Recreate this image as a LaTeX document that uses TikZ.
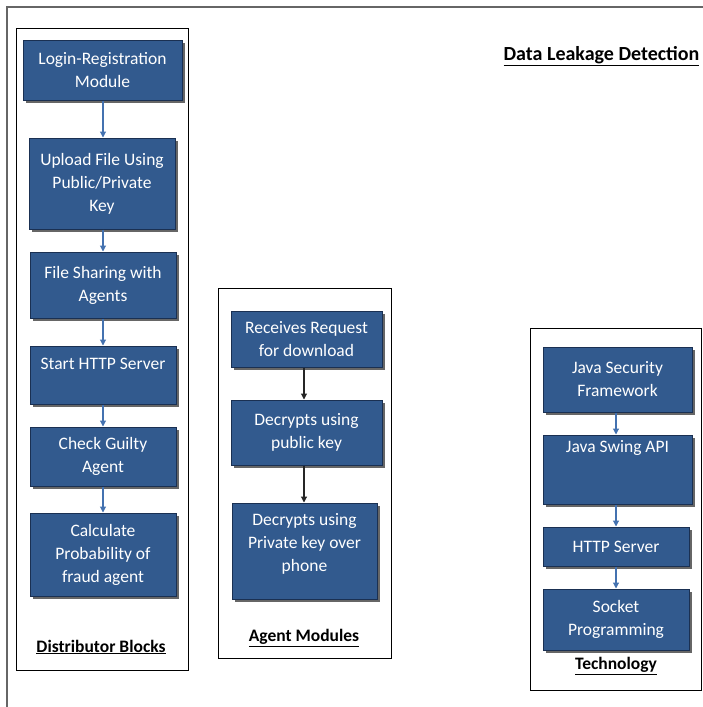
\documentclass[tikz,border=0pt]{standalone}
\usepackage{fontspec}
\setmainfont{Carlito}
\usetikzlibrary{arrows.meta,shadows}
\definecolor{BoxClr}{RGB}{50,90,142}
\definecolor{EdgeClr}{RGB}{26,48,82}
\definecolor{ArrowClr}{RGB}{68,114,176}

\begin{document}
\begin{tikzpicture}[x=1pt,y=-1pt,
  blockbox/.style={draw=EdgeClr,line width=1pt,fill=BoxClr,text=white,align=center,
    inner sep=0pt,font=\fontsize{17.5}{23}\selectfont,
    drop shadow={shadow xshift=2.5pt,shadow yshift=-2.5pt,fill=black!60,opacity=1}},
  groupbox/.style={draw=black,line width=0.8pt},
  grouplabel/.style={font=\fontsize{17.5}{21}\selectfont\bfseries},
  flow/.style={-{Triangle[length=6pt,width=6pt]},line width=1.1pt,draw=ArrowClr},
  flowdark/.style={flow,draw=black!85}]
\useasboundingbox (0,0) rectangle (703,707);

\draw[black!60,line width=1.2pt] (703,7) -- (7,7) -- (7,707);

\draw[groupbox] (16,28) rectangle (188,670);
\draw[groupbox] (218,288) rectangle (391,658);
\draw[groupbox] (530,328) rectangle (701,690);

\node[grouplabel,font=\fontsize{20}{24}\selectfont\bfseries] (title) at (601.5,56) {\underline{Data Leakage Detection}};

\node[blockbox,minimum width=159pt,minimum height=60pt] (login) at (102.5,70) {Login-Registration\\Module};
\node[blockbox,minimum width=146pt,minimum height=91pt] (upload) at (102,183.5) {Upload File Using\\Public/Private\\Key};
\node[blockbox,minimum width=146pt,minimum height=66pt] (sharing) at (103,285) {File Sharing with\\Agents};
\node[blockbox,minimum width=146pt,minimum height=58pt] (server) at (103,375) {Start HTTP Server\\\mbox{}};
\node[blockbox,minimum width=146pt,minimum height=59pt] (guilty) at (103,456.5) {Check Guilty\\Agent};
\node[blockbox,minimum width=146pt,minimum height=83pt] (prob) at (103,554.5) {Calculate\\Probability of\\fraud agent};
\node[grouplabel] (distlabel) at (101,647) {\underline{Distributor Blocks}};

\node[blockbox,minimum width=151pt,minimum height=56pt] (request) at (306.5,339) {Receives Request\\for download};
\node[blockbox,minimum width=151pt,minimum height=65pt] (pubkey) at (306.5,432.5) {Decrypts using\\public key};
\node[blockbox,minimum width=145pt,minimum height=96pt] (privkey) at (304.5,551) {Decrypts using\\Private key over\\phone\\[-6pt]\mbox{}};
\node[grouplabel] (agentlabel) at (304,638) {\underline{Agent Modules}};

\node[blockbox,minimum width=149pt,minimum height=65pt] (security) at (617.5,379.5) {Java Security\\Framework};
\node[blockbox,minimum width=149pt,minimum height=69pt] (swing) at (617.5,469.5) {Java Swing API\\\mbox{}\\\mbox{}};
\node[blockbox,minimum width=146pt,minimum height=39pt] (http) at (616,546.5) {HTTP Server};
\node[blockbox,minimum width=146pt,minimum height=61pt] (socket) at (616,619.5) {Socket\\Programming};
\node[grouplabel] (techlabel) at (616,666) {\underline{Technology}};

\draw[flow] (login.south -| sharing) -- (upload.north -| sharing);
\draw[flow] (upload.south -| sharing) -- (sharing.north);
\draw[flow] (sharing.south) -- (server.north);
\draw[flow] (server.south) -- (guilty.north);
\draw[flow] (guilty.south) -- (prob.north);

\draw[flowdark] (304,0 |- request.south) -- (304,0 |- pubkey.north);
\draw[flowdark] (304,0 |- pubkey.south) -- (304,0 |- privkey.north);

\draw[flow] (security.south -| http) -- (swing.north -| http);
\draw[flow] (swing.south -| http) -- (http.north);
\draw[flow] (http.south) -- (socket.north);

\end{tikzpicture}
\end{document}
